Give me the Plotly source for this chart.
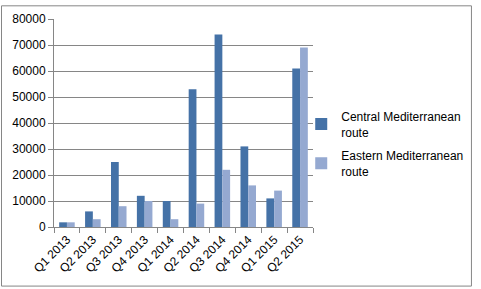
import plotly.graph_objects as go

categories = ["Q1 2013", "Q2 2013", "Q3 2013", "Q4 2013", "Q1 2014", "Q2 2014",
              "Q3 2014", "Q4 2014", "Q1 2015", "Q2 2015"]
central = [1800, 6000, 25000, 12000, 10000, 53000, 74000, 31000, 11000, 61000]
eastern = [1800, 3000, 8000, 10000, 3000, 9000, 22000, 16000, 14000, 69000]
y_ticks = [0, 10000, 20000, 30000, 40000, 50000, 60000, 70000, 80000]
y_labels = [str(v) for v in y_ticks]

W, H = 481, 289
L, R, T, B = 54, 163, 14, 62
pw, ph = W - L - R, H - T - B

def px(x):
    return (x - L) / pw

def py(y):
    return (H - B - y) / ph

font = dict(family="Liberation Sans, Arial, sans-serif", size=12, color="#000000")

fig = go.Figure()
fig.add_trace(go.Bar(x=categories, y=central, name="Central Mediterranean<br>route",
                     legendgroup="a",
                     marker=dict(color="#4572A7", line=dict(width=0))))
fig.add_trace(go.Bar(x=categories, y=eastern, name="Eastern Mediterranean<br>route",
                     legendgroup="b",
                     marker=dict(color="#95A9D1", line=dict(width=0))))

fig.update_layout(
    width=W, height=H,
    margin=dict(l=L, r=R, t=T, b=B, pad=0),
    paper_bgcolor="white", plot_bgcolor="white",
    barmode="group", bargap=0.4, bargroupgap=0,
    font=font,
    showlegend=True,
    legend=dict(x=px(306), y=py(99), xanchor="left", yanchor="top",
                font=font, itemwidth=30, tracegroupgap=5,
                bgcolor="rgba(0,0,0,0)"),
    xaxis=dict(tickangle=-45, showline=True, linecolor="#868686", linewidth=1,
               ticks="outside", tickcolor="#868686", ticklen=5, tickson="boundaries",
               showgrid=False, tickfont=font),
    yaxis=dict(range=[0, 80000], tickvals=y_ticks, ticktext=y_labels, showline=True,
               linecolor="#868686", linewidth=1, ticks="outside", tickcolor="#868686",
               ticklen=5, showgrid=True, gridcolor="#868686", gridwidth=1,
               zeroline=False, tickfont=font),
    shapes=[dict(type="rect", xref="paper", yref="paper",
                 x0=px(0.5), x1=px(W - 1.5), y0=py(H - 1.5), y1=py(0.5),
                 line=dict(color="#868686", width=1), layer="below")],
)

fig.write_html("out.html")
